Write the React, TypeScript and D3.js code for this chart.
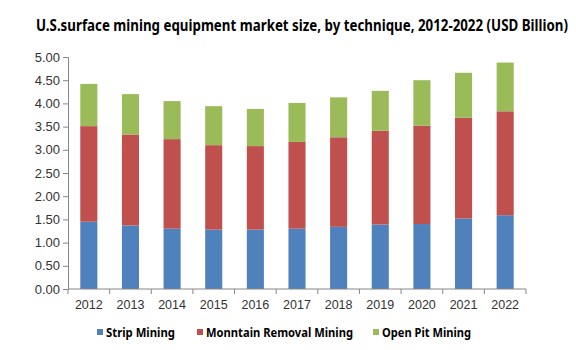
import { useEffect, useRef } from 'react';
import * as d3 from 'd3';

const years = ['2012', '2013', '2014', '2015', '2016', '2017', '2018', '2019', '2020', '2021', '2022'];
const seriesNames = ['Strip Mining', 'Monntain Removal Mining', 'Open Pit Mining'];
const stripMining = [1.45, 1.37, 1.3, 1.28, 1.28, 1.3, 1.34, 1.39, 1.4, 1.52, 1.59];
const mountainRemoval = [2.06, 1.96, 1.93, 1.82, 1.8, 1.87, 1.93, 2.02, 2.12, 2.17, 2.24];
const openPit = [0.91, 0.87, 0.82, 0.84, 0.8, 0.84, 0.86, 0.86, 0.98, 0.97, 1.05];
const yTicks = [0, 0.5, 1, 1.5, 2, 2.5, 3, 3.5, 4, 4.5, 5];
const colors = ['#4f81bd', '#c0504d', '#9bbb59'];

export default function App() {
  const svgRef = useRef<SVGSVGElement>(null);

  useEffect(() => {
    if (!svgRef.current) return;
    const svg = d3.select(svgRef.current);
    svg.selectAll('*').remove();

    const width = 576;
    const height = 350;
    const margin = { top: 57, right: 50, bottom: 61, left: 68 };

    svg.attr('width', width).attr('height', height);

    // title - squeezed horizontally to fit like the narrow original font
    const title = svg
      .append('text')
      .attr('x', 0)
      .attr('y', 0)
      .style('font-family', '"Noto Sans", sans-serif')
      .style('font-weight', 'bold')
      .style('font-size', '16px')
      .style('fill', '#000')
      .text('U.S.surface mining equipment market size, by technique, 2012-2022 (USD Billion)');
    const natural = (title.node() as SVGTextElement).getComputedTextLength() || 532;
    title.attr('transform', `translate(36,31) scale(${532 / natural},1)`);

    const x = d3
      .scaleBand()
      .domain(years)
      .range([margin.left, width - margin.right])
      .paddingInner(0.59)
      .paddingOuter(0.295);

    const y = d3
      .scaleLinear()
      .domain([0, 5])
      .range([height - margin.bottom, margin.top]);

    const table = years.map((yr, i) => ({
      year: yr,
      s0: stripMining[i],
      s1: mountainRemoval[i],
      s2: openPit[i],
    }));
    const stacked = d3.stack<any>().keys(['s0', 's1', 's2'])(table);

    const g = svg.append('g');
    g.selectAll('.layer')
      .data(stacked)
      .enter()
      .append('g')
      .attr('fill', (_d, i) => colors[i])
      .selectAll('rect')
      .data((d) => d)
      .enter()
      .append('rect')
      .attr('x', (d: any) => x(d.data.year)!)
      .attr('width', x.bandwidth())
      .attr('y', (d) => y(d[1]))
      .attr('height', (d) => y(d[0]) - y(d[1]));

    // y axis
    const yAxis = svg
      .append('g')
      .attr('transform', `translate(${margin.left},0)`)
      .call(
        d3
          .axisLeft(y)
          .tickValues(yTicks)
          .tickFormat(d3.format('.2f'))
          .tickSize(5)
          .tickPadding(3)
      );
    yAxis.select('.domain').attr('stroke', '#868686');
    yAxis.selectAll('line').attr('stroke', '#868686');
    yAxis
      .selectAll('text')
      .style('font-family', '"Liberation Sans", Arial, sans-serif')
      .style('font-size', '13px')
      .style('fill', '#333');

    // x axis with ticks at category boundaries
    const xAxisG = svg.append('g').attr('transform', `translate(0,${y(0)})`);
    xAxisG
      .append('line')
      .attr('x1', margin.left)
      .attr('x2', width - margin.right)
      .attr('stroke', '#868686');
    const step = x.step();
    const bounds = d3.range(years.length + 1).map((i) => margin.left + i * step);
    xAxisG
      .selectAll('.tick-b')
      .data(bounds)
      .enter()
      .append('line')
      .attr('x1', (d) => d)
      .attr('x2', (d) => d)
      .attr('y1', 0)
      .attr('y2', 5)
      .attr('stroke', '#868686');
    xAxisG
      .selectAll('.lbl')
      .data(years)
      .enter()
      .append('text')
      .attr('x', (d) => x(d)! + x.bandwidth() / 2)
      .attr('y', 19.5)
      .attr('text-anchor', 'middle')
      .style('font-family', '"Liberation Sans", Arial, sans-serif')
      .style('font-size', '12.5px')
      .style('fill', '#333')
      .text((d) => d);

    // legend
    const legendX = [97, 197, 373];
    const legendLen = [69, 147, 89];
    const legend = svg
      .selectAll('.legend-item')
      .data(seriesNames)
      .enter()
      .append('g')
      .attr('transform', (_d, i) => `translate(${legendX[i]}, 332)`);
    legend
      .append('rect')
      .attr('x', 0)
      .attr('y', -3)
      .attr('width', 6)
      .attr('height', 6)
      .attr('fill', (_d, i) => colors[i]);
    legend
      .append('text')
      .attr('x', 9)
      .attr('y', 0)
      .attr('dy', '0.35em')
      .attr('textLength', (_d, i) => legendLen[i])
      .attr('lengthAdjust', 'spacingAndGlyphs')
      .style('font-family', '"Noto Sans", sans-serif')
      .style('font-weight', 'bold')
      .style('font-size', '13px')
      .style('fill', '#000')
      .text((d) => d);
  }, []);

  return (
    <div style={{ position: 'absolute', left: 0, top: 0 }}>
      <svg ref={svgRef} width={576} height={350} style={{ display: 'block', background: '#fff' }} />
    </div>
  );
}
